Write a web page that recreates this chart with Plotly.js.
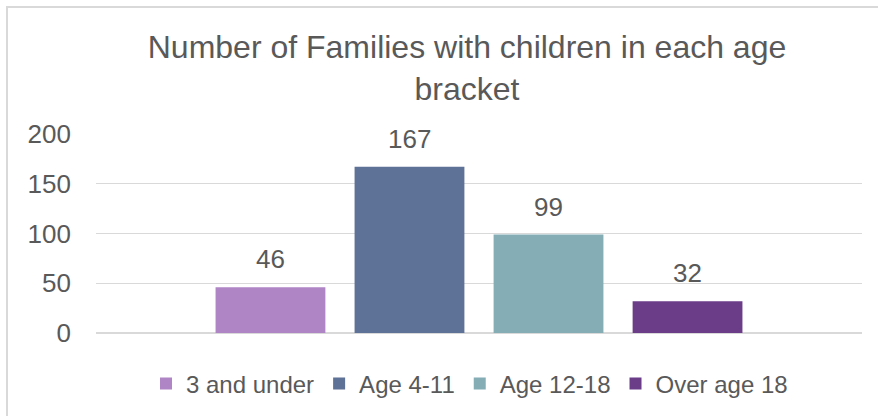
<!DOCTYPE html>
<html>
<head>
<meta charset="utf-8">
<script src="https://cdn.plot.ly/plotly-3.0.1.min.js"></script>
<style>
html,body{margin:0;padding:0;background:#fff;overflow:hidden;}
#wrap{position:relative;width:878px;height:416px;}
#chart{position:absolute;left:0;top:0;width:878px;height:416px;}
#frame{position:absolute;left:6px;top:6px;width:900px;height:450px;border:2px solid #d9d9d9;pointer-events:none;}
</style>
</head>
<body>
<div id="wrap"><div id="chart"></div><div id="frame"></div></div>
<script>
const titleText = "Number of Families with children in each age<br>bracket";
const seriesNames = ["3 and under", "Age 4-11", "Age 12-18", "Over age 18"];
const seriesValues = [46, 167, 99, 32];
const seriesColors = ["#AF85C6", "#5E7196", "#84ADB6", "#6B3D89"];
const yTicks = [0, 50, 100, 150, 200];

const textColor = "#595959";
const fontFam = "Liberation Sans, Arial, sans-serif";

const traces = seriesNames.map((name, i) => ({
  type: "bar",
  name: name,
  x: [name],
  y: [seriesValues[i]],
  width: 0.79,
  marker: {color: seriesColors[i]},
  hoverinfo: "none"
}));

const annotations = seriesNames.map((name, i) => ({
  x: name, y: seriesValues[i], xref: "x", yref: "y",
  text: String(seriesValues[i]), showarrow: false,
  yanchor: "bottom", yshift: 11,
  font: {family: fontFam, size: 26, color: textColor}
}));

const layout = {
  width: 878, height: 416,
  paper_bgcolor: "#ffffff", plot_bgcolor: "#ffffff",
  margin: {l: 96, r: 16, t: 134, b: 83, pad: 0, autoexpand: false},
  barmode: "overlay",
  showlegend: true,
  title: {
    text: titleText,
    font: {family: fontFam, size: 32, color: textColor},
    x: 467 / 878, xref: "container", xanchor: "center",
    y: 1 - 58 / 416, yref: "container", yanchor: "top"
  },
  xaxis: {
    type: "category",
    range: [-1.255, 4.255],
    showticklabels: false, showgrid: false, zeroline: false, showline: false,
    ticks: "", fixedrange: true
  },
  yaxis: {
    range: [0, 200],
    tickvals: yTicks, ticktext: yTicks.map(String),
    showgrid: true, gridcolor: "#d9d9d9", gridwidth: 1.3,
    zeroline: true, zerolinecolor: "#d9d9d9", zerolinewidth: 1.3,
    showline: false, ticks: "", ticklabelstandoff: 24,
    tickfont: {family: fontFam, size: 26, color: textColor},
    fixedrange: true
  },
  legend: {
    orientation: "h",
    x: (469.5 - 96) / 766, xref: "paper", xanchor: "center",
    y: -51 / 199, yanchor: "middle",
    font: {family: fontFam, size: 24, color: textColor},
    tracegroupgap: 0,
    bgcolor: "rgba(0,0,0,0)"
  },
  annotations: annotations
};

Plotly.newPlot("chart", traces, layout, {displayModeBar: false, staticPlot: true});
</script>
</body>
</html>
